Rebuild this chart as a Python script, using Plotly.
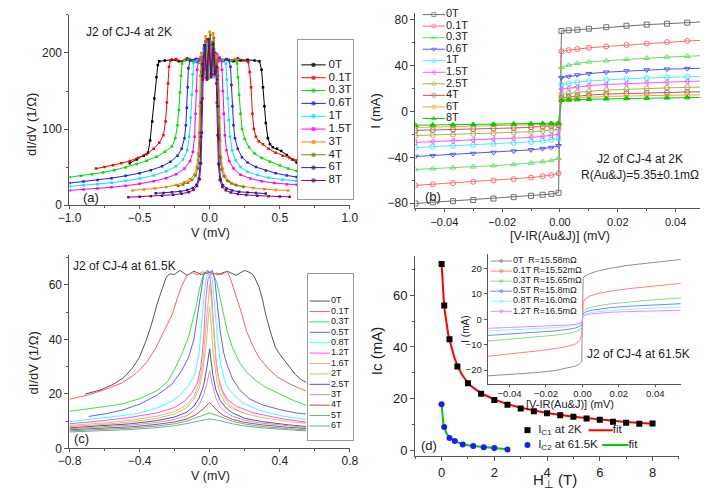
import plotly.graph_objects as go

# ---------------- panel (a): dI/dV at 2K ----------------
a_fields = ["0T", "0.1T", "0.3T", "0.6T", "1T", "1.5T", "3T", "4T", "6T", "8T"]
a_colors = ["#000000", "#ff0000", "#00dd00", "#2020ff", "#00e5ff", "#ff00ff",
            "#ff8000", "#808000", "#22229a", "#800080"]
a_points = [
    [(-0.57, 55), (-0.52, 60), (-0.47, 65), (-0.44, 69), (-0.425, 85), (-0.41, 110), (-0.395, 140),
     (-0.38, 168), (-0.37, 184), (-0.36, 189), (-0.32, 190), (-0.27, 191), (-0.22, 189), (-0.17, 191),
     (-0.12, 190), (-0.09, 188), (-0.065, 190), (-0.05, 183), (-0.04, 205), (-0.03, 172), (-0.02, 214),
     (-0.01, 178), (0.0, 200), (0.01, 170), (0.02, 210), (0.03, 178), (0.04, 200), (0.05, 186),
     (0.065, 191), (0.09, 190), (0.12, 191), (0.17, 189), (0.22, 190), (0.27, 191), (0.32, 190),
     (0.355, 189), (0.37, 178), (0.38, 155), (0.39, 130), (0.40, 108), (0.415, 88), (0.43, 80),
     (0.45, 76), (0.48, 74), (0.51, 71), (0.55, 66), (0.59, 60), (0.62, 56)],
    [(-0.81, 48), (-0.75, 50), (-0.69, 52.5), (-0.63, 55), (-0.57, 58), (-0.51, 62), (-0.45, 67),
     (-0.40, 74), (-0.36, 82), (-0.33, 92), (-0.315, 110), (-0.305, 135), (-0.297, 160), (-0.29, 182),
     (-0.28, 190), (-0.24, 192), (-0.2, 189), (-0.16, 193), (-0.12, 190), (-0.09, 192), (-0.065, 192),
     (-0.05, 178), (-0.04, 210), (-0.03, 168), (-0.02, 218), (-0.01, 172), (0.0, 206), (0.01, 175),
     (0.02, 214), (0.03, 170), (0.04, 196), (0.055, 188), (0.07, 194), (0.09, 189), (0.12, 192),
     (0.16, 190), (0.2, 193), (0.24, 190), (0.275, 188), (0.285, 175), (0.295, 155), (0.305, 120),
     (0.315, 100), (0.33, 90), (0.35, 84), (0.38, 80), (0.42, 74), (0.47, 69), (0.52, 65),
     (0.57, 62), (0.62, 59)],
    [(-1.0, 36.7), (-0.92, 38.5), (-0.84, 40.5), (-0.76, 43), (-0.68, 46), (-0.60, 49.5), (-0.52, 54),
     (-0.45, 58.5), (-0.38, 63.5), (-0.32, 70), (-0.27, 77), (-0.245, 88), (-0.23, 105), (-0.22, 125),
     (-0.212, 148), (-0.205, 170), (-0.198, 186), (-0.18, 190), (-0.14, 192), (-0.1, 189),
     (-0.06, 185), (-0.045, 200), (-0.035, 170), (-0.02, 212), (-0.01, 166), (0.0, 204), (0.01, 180),
     (0.02, 208), (0.035, 172), (0.05, 198), (0.065, 190), (0.1, 191), (0.14, 189), (0.18, 192),
     (0.195, 186), (0.202, 168), (0.21, 145), (0.22, 120), (0.232, 100), (0.25, 87), (0.28, 76),
     (0.32, 68), (0.37, 62), (0.43, 57), (0.5, 52), (0.56, 48), (0.62, 45)],
    [(-1.0, 29), (-0.9, 31), (-0.8, 33), (-0.7, 35.5), (-0.6, 38.5), (-0.5, 42), (-0.42, 46),
     (-0.34, 51), (-0.28, 57), (-0.23, 65), (-0.2, 74), (-0.18, 88), (-0.17, 105), (-0.163, 128),
     (-0.157, 155), (-0.152, 180), (-0.14, 190), (-0.1, 192), (-0.06, 192), (-0.045, 175),
     (-0.03, 215), (-0.015, 168), (0.0, 210), (0.015, 172), (0.03, 205), (0.045, 180), (0.06, 193),
     (0.1, 190), (0.135, 191), (0.148, 182), (0.155, 158), (0.162, 130), (0.17, 105), (0.18, 88),
     (0.2, 74), (0.23, 63), (0.27, 56), (0.33, 50), (0.4, 45.5), (0.47, 42), (0.55, 39), (0.62, 37)],
    [(-1.0, 24.6), (-0.9, 26), (-0.8, 27.5), (-0.7, 29.5), (-0.6, 32), (-0.5, 35), (-0.4, 39),
     (-0.31, 44.5), (-0.24, 51), (-0.19, 60), (-0.16, 72), (-0.145, 90), (-0.135, 115), (-0.128, 145),
     (-0.122, 172), (-0.115, 187), (-0.09, 190), (-0.06, 188), (-0.045, 206), (-0.03, 170),
     (-0.015, 212), (0.0, 175), (0.015, 208), (0.03, 168), (0.045, 198), (0.06, 190), (0.09, 191),
     (0.115, 186), (0.122, 165), (0.128, 140), (0.135, 112), (0.145, 90), (0.16, 72), (0.185, 59),
     (0.22, 50), (0.27, 44), (0.34, 39.5), (0.42, 36), (0.52, 33.5), (0.62, 32)],
    [(-1.0, 19.4), (-0.9, 20.5), (-0.8, 22), (-0.7, 23.5), (-0.6, 25.5), (-0.5, 28), (-0.4, 31.5),
     (-0.31, 35.5), (-0.24, 40.5), (-0.18, 48), (-0.14, 58), (-0.12, 70), (-0.108, 90), (-0.1, 120),
     (-0.094, 150), (-0.089, 178), (-0.08, 189), (-0.065, 194), (-0.05, 172), (-0.035, 208),
     (-0.02, 165), (-0.005, 215), (0.01, 170), (0.025, 206), (0.04, 176), (0.055, 198), (0.07, 190),
     (0.08, 191), (0.088, 178), (0.094, 150), (0.1, 120), (0.108, 92), (0.12, 72), (0.14, 58),
     (0.17, 48), (0.22, 40), (0.29, 35), (0.37, 31.5), (0.46, 29), (0.55, 27.5), (0.62, 26.7)],
    [(-0.55, 19.4), (-0.47, 20.5), (-0.39, 22), (-0.31, 24), (-0.24, 26.5), (-0.18, 30), (-0.14, 34),
     (-0.11, 40), (-0.092, 50), (-0.082, 68), (-0.076, 95), (-0.071, 130), (-0.067, 170), (-0.06, 200),
     (-0.045, 168), (-0.03, 222), (-0.015, 172), (0.0, 228), (0.015, 175), (0.025, 226), (0.035, 170),
     (0.05, 196), (0.062, 180), (0.066, 150), (0.07, 115), (0.075, 85), (0.082, 62), (0.092, 48),
     (0.11, 38), (0.14, 31), (0.18, 27), (0.24, 24.5), (0.31, 22.5), (0.39, 21), (0.47, 20),
     (0.56, 19.4)],
    [(-0.225, 25), (-0.19, 27), (-0.155, 29.5), (-0.125, 33), (-0.1, 39), (-0.085, 48), (-0.076, 65),
     (-0.07, 95), (-0.065, 135), (-0.061, 175), (-0.055, 195), (-0.04, 172), (-0.025, 215),
     (-0.01, 168), (0.005, 224), (0.02, 176), (0.03, 220), (0.045, 178), (0.055, 190), (0.06, 170),
     (0.064, 130), (0.069, 92), (0.075, 64), (0.084, 47), (0.1, 38), (0.125, 32), (0.155, 28.5),
     (0.19, 26), (0.24, 24)],
    [(-0.385, 15.5), (-0.33, 16), (-0.27, 16.8), (-0.21, 18), (-0.16, 19.8), (-0.12, 22.5),
     (-0.095, 26.5), (-0.078, 35), (-0.068, 55), (-0.062, 90), (-0.057, 135), (-0.053, 170),
     (-0.05, 185), (-0.035, 210), (-0.02, 168), (-0.005, 218), (0.01, 172), (0.025, 212), (0.04, 175),
     (0.05, 182), (0.053, 165), (0.057, 130), (0.062, 88), (0.068, 54), (0.078, 34), (0.095, 26),
     (0.12, 22), (0.16, 19.3), (0.21, 17.5), (0.27, 16.5), (0.33, 15.8), (0.40, 15.2)],
    [(-0.58, 10.4), (-0.5, 11), (-0.42, 11.7), (-0.34, 12.5), (-0.26, 13.6), (-0.2, 15), (-0.15, 17),
     (-0.115, 20), (-0.09, 25), (-0.072, 34), (-0.062, 55), (-0.056, 95), (-0.051, 140), (-0.048, 165),
     (-0.045, 178), (-0.035, 206), (-0.02, 165), (-0.005, 210), (0.01, 168), (0.025, 205), (0.035, 172),
     (0.045, 176), (0.048, 160), (0.051, 135), (0.056, 92), (0.062, 54), (0.072, 33), (0.09, 24),
     (0.115, 19.5), (0.15, 16.5), (0.2, 14.5), (0.26, 13.3), (0.34, 12.3), (0.42, 11.7), (0.5, 11.2),
     (0.57, 11)],
]

# ---------------- panel (b): I-V at 2K ----------------
b_fields = ["0T", "0.1T", "0.3T", "0.6T", "1T", "1.5T", "2.5T", "4T", "6T", "8T"]
b_colors = ["#707070", "#ff6b6b", "#66e066", "#5555ff", "#44f0ff", "#ff55ff",
            "#b0b050", "#b06060", "#ffa040", "#00cc00"]
b_symbols = ["square-open", "circle-open", "triangle-up-open", "triangle-down-open", "circle-open",
             "triangle-left-open", "circle-open", "circle-open", "circle-open", "triangle-up"]
b_x = [-0.050, -0.044, -0.037, -0.030, -0.023, -0.016, -0.010, -0.006, -0.003, -0.0005,
       0.0005, 0.003, 0.006, 0.010, 0.016, 0.023, 0.030, 0.037, 0.044, 0.050]
b_current = [
    [-80.3, -79.3, -78.3, -77.3, -76.0, -74.8, -73.6, -72.7, -72.0, -71.0,
     70.3, 70.8, 71.3, 72.2, 73.5, 74.8, 75.8, 76.6, 77.5, 78.3],
    [-64.5, -63.5, -62.5, -61.3, -60.2, -59.0, -57.7, -56.5, -55.5, -54.0,
     52.5, 53.5, 54.5, 55.5, 56.7, 58.0, 59.3, 60.5, 61.5, 62.3],
    [-50.6, -50.0, -49.2, -48.3, -47.3, -46.2, -45.0, -43.8, -42.8, -41.0,
     38.5, 40.5, 42.0, 43.3, 44.3, 45.5, 46.6, 47.5, 48.2, 48.8],
    [-39.3, -38.5, -37.6, -36.7, -35.8, -34.7, -33.5, -32.4, -31.5, -30.0,
     29.5, 30.5, 31.8, 33.0, 34.3, 35.3, 36.2, 36.9, 37.4, 37.8],
    [-31.5, -30.8, -30.0, -29.2, -28.4, -27.5, -26.5, -25.6, -24.8, -23.5,
     23.5, 24.5, 25.5, 26.6, 27.6, 28.5, 29.2, 29.8, 30.3, 30.7],
    [-27.0, -26.4, -25.7, -25.0, -24.3, -23.5, -22.6, -21.8, -21.0, -20.0,
     19.5, 20.3, 21.3, 22.5, 23.6, 24.4, 25.1, 25.7, 26.2, 26.6],
    [-21.0, -20.6, -20.1, -19.6, -19.0, -18.4, -17.7, -17.0, -16.3, -15.5,
     15.0, 15.8, 16.6, 17.6, 18.6, 19.4, 20.0, 20.6, 21.0, 21.4],
    [-16.5, -16.2, -15.8, -15.4, -14.9, -14.4, -13.8, -13.3, -12.8, -12.0,
     11.8, 12.6, 13.4, 14.3, 15.2, 15.8, 16.3, 16.7, 17.0, 17.2],
    [-14.0, -13.7, -13.4, -13.0, -12.6, -12.2, -11.8, -11.4, -11.0, -10.5,
     10.3, 11.0, 11.7, 12.4, 13.1, 13.6, 13.9, 14.1, 14.3, 14.4],
    [-12.0, -11.8, -11.6, -11.4, -11.2, -11.0, -10.8, -10.6, -10.4, -10.2,
     9.8, 10.1, 10.4, 10.7, 11.0, 11.3, 11.6, 11.9, 12.1, 12.3],
]

# ---------------- panel (c): dI/dV at 61.5K ----------------
c_fields = ["0T", "0.1T", "0.3T", "0.5T", "0.8T", "1.2T", "1.6T", "2T", "2.5T", "3T", "4T", "5T", "6T"]
c_colors = ["#555555", "#ff6060", "#40e040", "#6060ff", "#40ffff", "#ff50ff", "#ffb050",
            "#c8c080", "#5050b0", "#c890d0", "#b05050", "#70b070", "#60b0b0"]
c_points = [
    [(-0.71, 19.9), (-0.62, 21.5), (-0.55, 23.5), (-0.49, 26), (-0.44, 29.5), (-0.40, 33.5), (-0.36, 40),
     (-0.33, 46), (-0.30, 53), (-0.27, 59), (-0.25, 62.5), (-0.23, 64), (-0.2, 63.8), (-0.17, 65.3),
     (-0.13, 63.5), (-0.09, 65), (-0.05, 63.8), (0.0, 64.5), (0.05, 63.8), (0.1, 65), (0.15, 63.5),
     (0.2, 65.3), (0.23, 64.5), (0.25, 63.5), (0.28, 59.5), (0.30, 55), (0.32, 49), (0.35, 42),
     (0.375, 37), (0.40, 34.5), (0.43, 32), (0.46, 29.5), (0.49, 27), (0.52, 25.3), (0.55, 24.2)],
    [(-0.80, 18), (-0.70, 19.5), (-0.60, 21.5), (-0.50, 24), (-0.42, 27.5), (-0.36, 31.5), (-0.31, 36.5),
     (-0.26, 43), (-0.215, 49), (-0.185, 55), (-0.16, 59.5), (-0.13, 63.5), (-0.10, 64.5), (-0.07, 63.7),
     (-0.04, 64.8), (0.0, 63.8), (0.04, 64.3), (0.07, 63.8), (0.10, 65), (0.12, 62), (0.145, 57),
     (0.18, 50), (0.21, 43), (0.25, 37), (0.28, 33.5), (0.33, 29.5), (0.39, 26), (0.46, 23.5), (0.55, 21)],
    [(-0.80, 13.6), (-0.70, 14.4), (-0.60, 15.3), (-0.50, 16.3), (-0.40, 18.2), (-0.30, 21.2), (-0.24, 24.5),
     (-0.20, 29), (-0.16, 34.5), (-0.12, 41), (-0.10, 46), (-0.08, 51.3), (-0.06, 58), (-0.04, 63),
     (-0.02, 64.5), (0.0, 64.8), (0.02, 64), (0.04, 61), (0.06, 55), (0.08, 48.9), (0.10, 43), (0.13, 37),
     (0.17, 31.5), (0.21, 28), (0.26, 25), (0.32, 22.4), (0.40, 20), (0.48, 17.5), (0.55, 15.8)],
    [(-0.69, 11.7), (-0.60, 12.6), (-0.50, 14), (-0.40, 16.2), (-0.30, 19.5), (-0.215, 23.6), (-0.16, 28.5),
     (-0.12, 33.5), (-0.09, 40), (-0.068, 50), (-0.05, 58), (-0.035, 63.5), (-0.015, 65.3), (0.0, 64.5),
     (0.015, 65.3), (0.03, 61.5), (0.045, 52), (0.06, 43), (0.08, 35), (0.10, 30.5), (0.13, 25.5),
     (0.17, 21.5), (0.23, 18), (0.30, 16), (0.40, 14.2), (0.50, 12.9), (0.55, 12.6)],
    [(-0.80, 9.8), (-0.70, 10.5), (-0.60, 11.2), (-0.50, 12), (-0.40, 12.9), (-0.30, 14.8), (-0.22, 17.2),
     (-0.17, 19.5), (-0.12, 23), (-0.085, 27.2), (-0.06, 35), (-0.045, 46), (-0.03, 58), (-0.015, 63.5),
     (0.0, 64), (0.015, 62), (0.03, 51), (0.045, 40), (0.062, 31), (0.085, 25), (0.11, 21.5), (0.14, 19.5),
     (0.19, 16.5), (0.28, 14), (0.40, 12), (0.50, 11), (0.55, 10.7)],
    [(-0.80, 9.0), (-0.60, 10.2), (-0.45, 11.4), (-0.30, 13), (-0.20, 15), (-0.14, 17.5), (-0.10, 20.5),
     (-0.07, 24), (-0.05, 30), (-0.035, 40), (-0.022, 55), (-0.01, 62), (0.0, 63.5), (0.01, 58),
     (0.022, 45), (0.035, 33), (0.05, 26), (0.07, 21.5), (0.10, 18), (0.15, 15.5), (0.25, 13),
     (0.40, 11), (0.55, 9.6)],
    [(-0.80, 8.4), (-0.60, 9.3), (-0.45, 10.3), (-0.30, 11.8), (-0.20, 13.5), (-0.13, 16), (-0.09, 19),
     (-0.06, 24), (-0.04, 31), (-0.025, 42), (-0.012, 54), (0.0, 60), (0.012, 53), (0.025, 40), (0.04, 29),
     (0.06, 22.5), (0.09, 18), (0.13, 15), (0.20, 12.8), (0.30, 11.2), (0.45, 9.8), (0.55, 9.2)],
    [(-0.80, 8.0), (-0.60, 8.8), (-0.45, 9.7), (-0.30, 11), (-0.20, 12.6), (-0.13, 15), (-0.09, 18),
     (-0.06, 22), (-0.04, 28), (-0.02, 38), (-0.008, 48), (0.0, 52), (0.008, 46), (0.02, 35), (0.04, 25),
     (0.06, 20), (0.09, 16.5), (0.13, 14.5), (0.19, 13)],
    [(-0.80, 7.5), (-0.60, 8.2), (-0.45, 9), (-0.30, 10.2), (-0.20, 11.5), (-0.13, 13.3), (-0.09, 15.5),
     (-0.06, 18.5), (-0.035, 23), (-0.018, 29), (-0.006, 34), (0.0, 36.5), (0.006, 33), (0.018, 27),
     (0.035, 21.5), (0.06, 17.5), (0.09, 15), (0.13, 13), (0.20, 11), (0.30, 9.8), (0.45, 8.6), (0.55, 8)],
    [(-0.80, 7.2), (-0.60, 7.8), (-0.45, 8.5), (-0.30, 9.5), (-0.20, 10.6), (-0.13, 12), (-0.09, 13.8),
     (-0.06, 16), (-0.035, 19.5), (-0.015, 24), (0.0, 28.5), (0.015, 23.5), (0.035, 18.5), (0.06, 15.3),
     (0.09, 13.3), (0.13, 11.8), (0.20, 10.3), (0.30, 9.2), (0.45, 8.2), (0.55, 7.7)],
    [(-0.80, 6.8), (-0.60, 7.3), (-0.45, 7.9), (-0.30, 8.8), (-0.20, 9.7), (-0.13, 10.8), (-0.08, 12.3),
     (-0.04, 14.3), (-0.015, 16), (0.0, 16.8), (0.015, 15.8), (0.04, 14), (0.08, 12), (0.13, 10.6),
     (0.20, 9.5), (0.30, 8.6), (0.45, 7.7), (0.55, 7.3)],
    [(-0.80, 6.4), (-0.60, 6.9), (-0.45, 7.4), (-0.30, 8.2), (-0.20, 9), (-0.13, 10), (-0.08, 11.1),
     (-0.04, 12.2), (0.0, 13), (0.04, 12.1), (0.08, 11), (0.13, 9.9), (0.20, 8.9), (0.30, 8),
     (0.45, 7.2), (0.55, 6.8)],
    [(-0.80, 6.0), (-0.60, 6.4), (-0.45, 6.9), (-0.30, 7.6), (-0.20, 8.3), (-0.13, 9.1), (-0.08, 9.8),
     (-0.04, 10.4), (0.0, 10.8), (0.04, 10.4), (0.08, 9.7), (0.13, 9), (0.20, 8.2), (0.30, 7.5),
     (0.45, 6.8), (0.55, 6.4)],
]

# ---------------- panel (d): critical currents ----------------
d_h1 = [0, 0.1, 0.3, 0.6, 1, 1.5, 2, 2.5, 3, 3.5, 4, 4.5, 5, 5.5, 6, 6.5, 7, 7.5, 8]
d_ic1 = [72, 56, 43, 32.5, 26, 22, 19.6, 17.8, 16.3, 15.3, 14.5, 13.7, 13.1, 12.5, 12.0, 11.2, 10.8, 10.4, 10.5]
d_h2 = [0, 0.1, 0.3, 0.5, 0.8, 1.2, 1.6, 2.0, 2.5]
d_ic2 = [18.0, 9.2, 5.0, 3.8, 2.5, 1.9, 1.4, 1.1, 0.5]
fit1_h = [0, 0.04, 0.08, 0.12, 0.18, 0.25, 0.32, 0.4, 0.5, 0.6, 0.75, 0.9, 1.1, 1.3, 1.6, 2.0, 2.5,
          3, 3.5, 4, 5, 6, 7, 8]
fit1_ic = [72, 64, 58.5, 54, 49, 45, 42, 39, 35.5, 32.8, 29.8, 27.5, 25.2, 23.6, 21.7, 19.8, 18,
           16.6, 15.5, 14.6, 13.1, 12, 11.1, 10.4]
fit2_h = [0, 0.03, 0.06, 0.1, 0.15, 0.2, 0.3, 0.4, 0.5, 0.65, 0.8, 1.0, 1.2, 1.6, 2.0, 2.5]
fit2_ic = [18, 13.5, 11, 9.0, 7.6, 6.5, 5.2, 4.4, 3.8, 3.1, 2.6, 2.2, 1.9, 1.4, 1.1, 0.6]

# inset of (d): I-V at 61.5K
i_labels = ["0T  R=15.58mΩ", "0.1T R=15.52mΩ", "0.3T R=15.65mΩ", "0.5T R=15.8mΩ",
            "0.8T R=16.0mΩ", "1.2T R=16.5mΩ"]
i_colors = ["#909090", "#ff8080", "#80e080", "#8080ff", "#80ffff", "#ff80ff"]
i_x = [-0.052, -0.045, -0.035, -0.025, -0.015, -0.008, -0.004, -0.0015, -0.0004,
       0.0004, 0.0015, 0.004, 0.008, 0.015, 0.025, 0.035, 0.045, 0.054]
i_current = [
    [-22.3, -22.0, -21.5, -21.0, -20.2, -19.3, -18.5, -17.5, -16.5, 16.4, 17.0, 17.9, 18.9, 20.0, 21.2, 22.0, 22.8, 23.5],
    [-14.6, -14.1, -13.3, -12.5, -11.6, -10.7, -9.8, -8.3, -6.0, 6.5, 8.0, 9.1, 10.0, 11.0, 12.0, 12.8, 13.5, 14.1],
    [-8.6, -8.2, -7.6, -7.0, -6.3, -5.6, -5.0, -4.2, -3.0, 3.0, 3.8, 4.5, 5.2, 6.0, 6.8, 7.4, 7.9, 8.4],
    [-6.4, -6.1, -5.6, -5.1, -4.6, -4.0, -3.5, -2.8, -2.0, 2.2, 2.8, 3.4, 3.9, 4.5, 5.1, 5.5, 5.8, 6.1],
    [-4.6, -4.4, -4.1, -3.7, -3.3, -2.9, -2.5, -2.0, -1.5, 1.6, 2.1, 2.5, 2.9, 3.4, 3.9, 4.2, 4.5, 4.7],
    [-3.6, -3.4, -3.2, -2.9, -2.6, -2.3, -2.0, -1.6, -1.2, 1.2, 1.6, 2.0, 2.3, 2.7, 3.0, 3.2, 3.4, 3.5],
]

W, H = 708, 490
FONT = "Arial, Liberation Sans, sans-serif"
INK = "#222222"
AXC = "#555555"


def dom_x(p0, p1):
    return [p0 / W, p1 / W]


def dom_y(top, bottom):
    return [1 - bottom / H, 1 - top / H]


def axis(domain, rng, anchor, size=11, **kw):
    d = dict(domain=domain, range=rng, anchor=anchor, showgrid=False, zeroline=False,
             showline=True, linecolor=AXC, linewidth=1.2, ticks="outside", ticklen=4,
             tickcolor=AXC, tickfont=dict(size=size, color=INK, family=FONT))
    d.update(kw)
    return d


def key_axis(domain, width_px, anchor, boxed):
    return dict(domain=domain, range=[0, width_px], anchor=anchor, showgrid=False, zeroline=False,
                showticklabels=False, ticks="", showline=boxed, mirror=True, linecolor="#999999",
                linewidth=1, fixedrange=True)


fig = go.Figure()

# panel (a)
for pts, col in zip(a_points, a_colors):
    fig.add_trace(go.Scatter(x=[p[0] for p in pts], y=[p[1] for p in pts], mode="lines+markers",
                             line=dict(color=col, width=1), marker=dict(size=2.5, color=col, symbol="square"),
                             xaxis="x", yaxis="y", showlegend=False, hoverinfo="skip"))

# panel (b)
for cur, col, sym in zip(b_current, b_colors, b_symbols):
    fig.add_trace(go.Scatter(x=b_x, y=cur, mode="lines+markers", line=dict(color=col, width=1),
                             marker=dict(size=5, color=col, symbol=sym, line=dict(width=1, color=col)),
                             xaxis="x2", yaxis="y2", showlegend=False, hoverinfo="skip"))

# panel (c)
for pts, col in zip(c_points, c_colors):
    fig.add_trace(go.Scatter(x=[p[0] for p in pts], y=[p[1] for p in pts], mode="lines",
                             line=dict(color=col, width=1), xaxis="x3", yaxis="y3",
                             showlegend=False, hoverinfo="skip"))

# panel (d)
fig.add_trace(go.Scatter(x=fit1_h, y=fit1_ic, mode="lines", line=dict(color="#ff0000", width=2),
                         xaxis="x4", yaxis="y4", showlegend=False))
fig.add_trace(go.Scatter(x=fit2_h, y=fit2_ic, mode="lines", line=dict(color="#00cc00", width=2),
                         xaxis="x4", yaxis="y4", showlegend=False))
fig.add_trace(go.Scatter(x=d_h1, y=d_ic1, mode="markers", marker=dict(symbol="square", size=6, color="#000000"),
                         xaxis="x4", yaxis="y4", showlegend=False))
fig.add_trace(go.Scatter(x=d_h2, y=d_ic2, mode="markers", marker=dict(symbol="circle", size=6, color="#1a1aff"),
                         xaxis="x4", yaxis="y4", showlegend=False))

# inset
for cur, col in zip(i_current, i_colors):
    fig.add_trace(go.Scatter(x=i_x, y=cur, mode="lines", line=dict(color=col, width=1),
                             xaxis="x5", yaxis="y5", showlegend=False, hoverinfo="skip"))


def add_key(n, labels, colors, first, step, line_x, text_x, fsize, symbols=None, msize=0, lw=1):
    rows = [first + step * i for i in range(len(labels))]
    for i, col in enumerate(colors):
        sym = symbols[i] if symbols else "circle"
        fig.add_trace(go.Scatter(x=[line_x[0], (line_x[0] + line_x[1]) / 2, line_x[1]], y=[rows[i]] * 3,
                                 mode="lines+markers", line=dict(color=col, width=lw),
                                 marker=dict(size=[0, msize, 0], color=col, symbol=sym,
                                             line=dict(width=1, color=col)),
                                 cliponaxis=False, xaxis="x" + n, yaxis="y" + n,
                                 showlegend=False, hoverinfo="skip"))
    fig.add_trace(go.Scatter(x=[text_x] * len(labels), y=rows, mode="text", text=labels,
                             textposition="middle right", cliponaxis=False,
                             textfont=dict(size=fsize, color=INK, family=FONT),
                             xaxis="x" + n, yaxis="y" + n, showlegend=False, hoverinfo="skip"))


add_key("6", a_fields, a_colors, 25.7, 13.03, (3, 28), 31, 11.5, ["square"] * 10, 3)
add_key("7", b_fields, b_colors, 6.7, 11.7, (5, 28), 29, 11, b_symbols, 4)
add_key("8", c_fields, c_colors, 27.3, 10.56, (1.3, 22.3), 23.5, 9)
add_key("9", i_labels, i_colors, 6.7, 10.2, (3, 25), 26, 9, ["circle"] * 6, 3)

# key of panel (d)
fig.add_trace(go.Scatter(x=[8, 8], y=[10.3, 25.3], mode="markers", cliponaxis=False,
                         marker=dict(symbol=["square", "circle"], size=6, color=["#000000", "#1a1aff"]),
                         xaxis="x10", yaxis="y10", showlegend=False, hoverinfo="skip"))
fig.add_trace(go.Scatter(x=[71, 96], y=[10.3, 10.3], mode="lines", line=dict(color="#ff0000", width=2),
                         cliponaxis=False, xaxis="x10", yaxis="y10", showlegend=False, hoverinfo="skip"))
fig.add_trace(go.Scatter(x=[85, 112], y=[25.3, 25.3], mode="lines", line=dict(color="#00cc00", width=2),
                         cliponaxis=False, xaxis="x10", yaxis="y10", showlegend=False, hoverinfo="skip"))
fig.add_trace(go.Scatter(x=[19, 19, 96, 112], y=[10.3, 25.3, 10.3, 25.3], mode="text",
                         text=["I<sub>C1</sub> at 2K", "I<sub>C2</sub> at 61.5K", "fit", "fit"],
                         textposition="middle right", cliponaxis=False,
                         textfont=dict(size=11.5, color=INK, family=FONT),
                         xaxis="x10", yaxis="y10", showlegend=False, hoverinfo="skip"))

minor = lambda dt: dict(dtick=dt, ticks="outside", ticklen=2, tickcolor=AXC, showgrid=False)

fig.update_layout(
    width=W, height=H, margin=dict(l=0, r=0, t=0, b=0),
    paper_bgcolor="white", plot_bgcolor="rgba(0,0,0,0)",
    font=dict(family=FONT, color=INK),
    xaxis=axis(dom_x(51, 340), [-1, 1], "y", 12, dtick=0.5, tickformat=".1f", minor=minor(0.25),
               ticklen=3, ticklabelstandoff=-2),
    yaxis=axis(dom_y(7, 200), [0, 250], "x", 12, tickvals=[0, 100, 200], minor=minor(50)),
    xaxis2=axis(dom_x(407.5, 705.5), [-0.05, 0.05], "y2", 11, dtick=0.02, tickformat=".2f",
                minor=minor(0.01), ticklen=3),
    yaxis2=axis(dom_y(5, 203.3), [-84.6, 86], "x2", 12, tickvals=[-80, -40, 0, 40, 80], minor=minor(20)),
    xaxis3=axis(dom_x(51, 340), [-0.8, 0.8], "y3", 12, dtick=0.4, tickformat=".1f", minor=minor(0.2),
                ticklen=3, ticklabelstandoff=-2),
    yaxis3=axis(dom_y(251, 446.7), [0, 70.8], "x3", 12, tickvals=[0, 20, 40, 60], minor=minor(10)),
    xaxis4=axis(dom_x(407.3, 679), [-1, 9], "y4", 13, tickvals=[0, 2, 4, 6, 8], minor=minor(1)),
    yaxis4=axis(dom_y(251.7, 454.3), [-1.9, 75], "x4", 13, tickvals=[0, 20, 40, 60], minor=minor(10)),
    xaxis5=axis(dom_x(482, 681), [-0.052, 0.054], "y5", 9.5, tickvals=[-0.04, -0.02, 0, 0.02, 0.04],
                tickformat=".2f", ticklen=2, ticklabelstandoff=-2),
    yaxis5=axis(dom_y(250, 381.7), [-25.6, 25.5], "x5", 9.5, tickvals=[-20, -10, 0, 10, 20], ticklen=3),
    xaxis6=key_axis(dom_x(287, 343), 56, "y6", True),
    yaxis6=dict(key_axis(dom_y(32, 194), 162, "x6", True), range=[162, 0]),
    xaxis7=key_axis(dom_x(410, 470), 60, "y7", False),
    yaxis7=dict(key_axis(dom_y(0, 120), 120, "x7", False), range=[120, 0]),
    xaxis8=key_axis(dom_x(297, 343), 46, "y8", True),
    yaxis8=dict(key_axis(dom_y(270, 438), 168, "x8", True), range=[168, 0]),
    xaxis9=key_axis(dom_x(482, 560), 78, "y9", False),
    yaxis9=dict(key_axis(dom_y(250, 312), 62, "x9", False), range=[62, 0]),
    xaxis10=key_axis(dom_x(515, 645), 130, "y10", False),
    yaxis10=dict(key_axis(dom_y(418, 452), 34, "x10", False), range=[34, 0]),
)


def note(text, px, py, size, angle=0, xanchor="center"):
    fig.add_annotation(text=text, x=px / W, y=1 - py / H, xref="paper", yref="paper",
                       showarrow=False, textangle=angle, xanchor=xanchor, yanchor="middle",
                       font=dict(size=size, color=INK, family=FONT))


note("dI/dV (1/Ω)", 12, 118, 13, -90)
note("V (mV)", 196, 228, 12.5)
note("J2 of CJ-4 at 2K", 66, 24, 12, xanchor="left")
note("(a)", 73, 192, 13)
note("I (mA)", 366, 105, 13, -90)
note("[V-IR(Au&amp;J)] (mV)", 556, 231, 12.5)
note("J2 of CJ-4 at 2K", 639, 153, 12)
note("R(Au&amp;J)=5.35±0.1mΩ", 639, 169, 12)
note("(b)", 426, 191, 13)
note("dI/dV (1/Ω)", 14, 360, 13, -90)
note("V (mV)", 196, 475, 12.5)
note("J2 of CJ-4 at 61.5K", 53, 262, 12, xanchor="left")
note("(c)", 63, 437, 13)
note("Ic (mA)", 367, 348, 15, -90)
note("H<sub>⊥</sub> (T)", 551, 479, 15)
note("(d)", 422, 444, 13)
note("I (mA)", 459, 326, 10, -90)
note("[V-IR(Au&amp;J)] (mV)", 567, 402, 11)
note("J2 of CJ-4 at 61.5K", 637, 351, 12)

fig.write_html("out.html")
